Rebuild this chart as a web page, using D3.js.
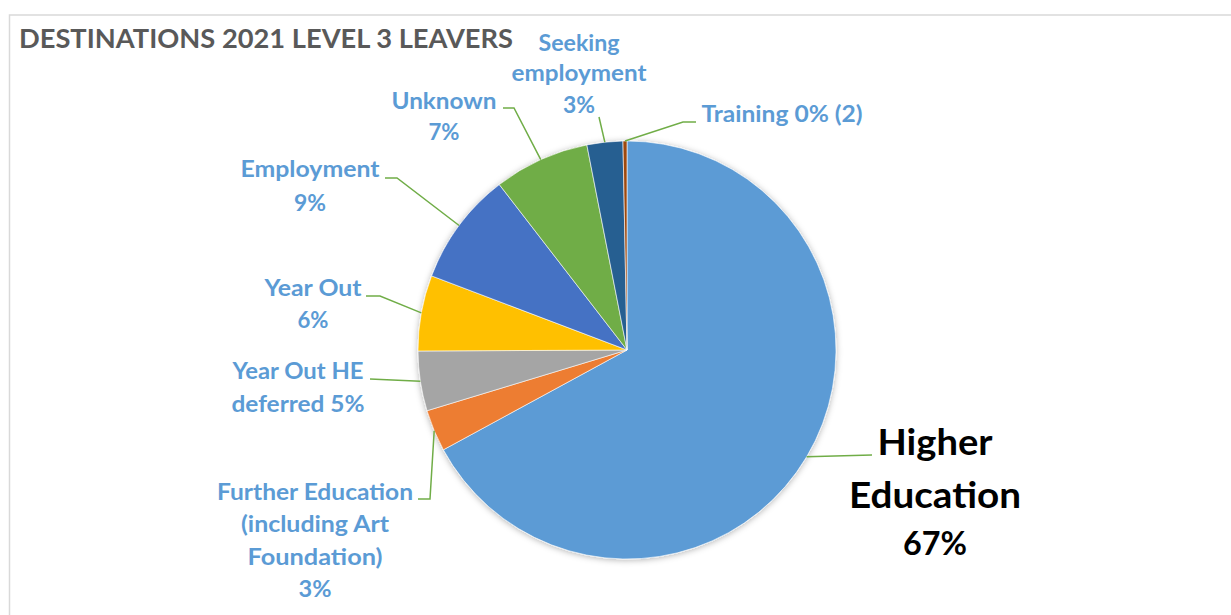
<!DOCTYPE html>
<html><head><meta charset="utf-8">
<script src="https://cdn.jsdelivr.net/npm/d3@7"></script>
<style>html,body{margin:0;padding:0;background:#fff;} svg{display:block;}</style>
</head><body>
<svg id="chart" width="1231" height="615"></svg>
<script>
// ---- data ----
const title = "DESTINATIONS 2021 LEVEL 3 LEAVERS";
const categories = ["Higher Education", "Further Education (including Art Foundation)", "Year Out HE deferred", "Year Out", "Employment", "Unknown", "Seeking employment", "Training"];
const counts = [436, 21, 30, 38, 57, 48, 18, 2];
const labelLines = [
  ["Higher", "Education", "67%"],
  ["Further Education", "(including Art", "Foundation)", "3%"],
  ["Year Out HE", "deferred 5%"],
  ["Year Out", "6%"],
  ["Employment", "9%"],
  ["Unknown", "7%"],
  ["Seeking", "employment", "3%"],
  ["Training 0% (2)"]
];
const colors = ["#5B9BD5", "#ED7D31", "#A5A5A5", "#FFC000", "#4472C4", "#70AD47", "#255E91", "#9E480E"];

// ---- layout (positions / sizes only) ----
const cx = 627, cy = 350, R = 209;
const labelLayout = [
  {x: 935, y: [455, 508, 555], size: [37, 37, 33], w: [115, 172, 64], color: "#000000", leader: [[872, 455]]},
  {x: 315, y: [500, 532, 565, 597], w: [196, 148, 135, 33], leader: [[430, 499], [418, 499]]},
  {x: 298, y: [379, 412], w: [131, 133], leader: [[370, 379]]},
  {x: 313, y: [296, 328], w: [97, 31], leader: [[380, 296], [366, 296]]},
  {x: 310, y: [177, 211], w: [139, 32], leader: [[397, 178], [385, 178]]},
  {x: 444, y: [109, 140], w: [105, 31], leader: [[514, 108], [503, 108]]},
  {x: 579, y: [51, 81, 113], w: [81, 135, 32], leader: [[599, 117]]},
  {x: 782, y: [122], w: [161], leader: [[683, 122], [696, 122]]}
];

const svg = d3.select("#chart");
const FONT = "Lato, 'Open Sans', sans-serif";

// frame
svg.append("rect").attr("x", 9.5).attr("y", 15).attr("width", 1240).attr("height", 620)
  .attr("fill", "#fff").attr("stroke", "#d9d9d9").attr("stroke-width", 1.5);

// title
svg.append("text").attr("x", 19).attr("y", 47.5)
  .attr("font-family", FONT).attr("font-weight", 700).attr("font-size", 27.5)
  .attr("fill", "#595959").attr("textLength", 494).attr("lengthAdjust", "spacingAndGlyphs")
  .text(title);

// shadow
const defs = svg.append("defs");
const f = defs.append("filter").attr("id", "shadow").attr("x", "-20%").attr("y", "-20%").attr("width", "140%").attr("height", "140%");
f.append("feDropShadow").attr("dx", 0).attr("dy", 1).attr("stdDeviation", 3)
  .attr("flood-color", "#000").attr("flood-opacity", 0.3);

const data = categories.map((c, i) => ({name: c, value: counts[i], color: colors[i], lines: labelLines[i], lay: labelLayout[i]}));
const pie = d3.pie().value(d => d.value).sort(null).startAngle(0).endAngle(2 * Math.PI);
const arcs = pie(data);
const arc = d3.arc().innerRadius(0).outerRadius(R);
const edge = d3.arc().innerRadius(R).outerRadius(R);

const g = svg.append("g").attr("transform", `translate(${cx},${cy})`);
const slices = g.append("g").attr("filter", "url(#shadow)");
slices.selectAll("path").data(arcs).join("path")
  .attr("d", arc).attr("fill", d => d.data.color)
  .attr("stroke", "#ffffff").attr("stroke-width", 0.6);

// leader lines
const line = d3.line();
svg.append("g").selectAll("path").data(arcs).join("path")
  .attr("d", d => {
    const c = edge.centroid(d);
    return line([[cx + c[0], cy + c[1]], ...d.data.lay.leader]);
  })
  .attr("fill", "none").attr("stroke", "#70AD47").attr("stroke-width", 1.5);

// labels
const lg = svg.append("g");
arcs.forEach(d => {
  const L = d.data.lay;
  d.data.lines.forEach((t, j) => {
    lg.append("text")
      .attr("x", L.x).attr("y", L.y[j])
      .attr("text-anchor", "middle")
      .attr("font-family", FONT).attr("font-weight", 700)
      .attr("font-size", L.size ? L.size[j] : 23)
      .attr("fill", L.color || "#5B9BD5")
      .attr("textLength", L.w[j]).attr("lengthAdjust", "spacingAndGlyphs")
      .text(t);
  });
});
</script>
</body></html>
